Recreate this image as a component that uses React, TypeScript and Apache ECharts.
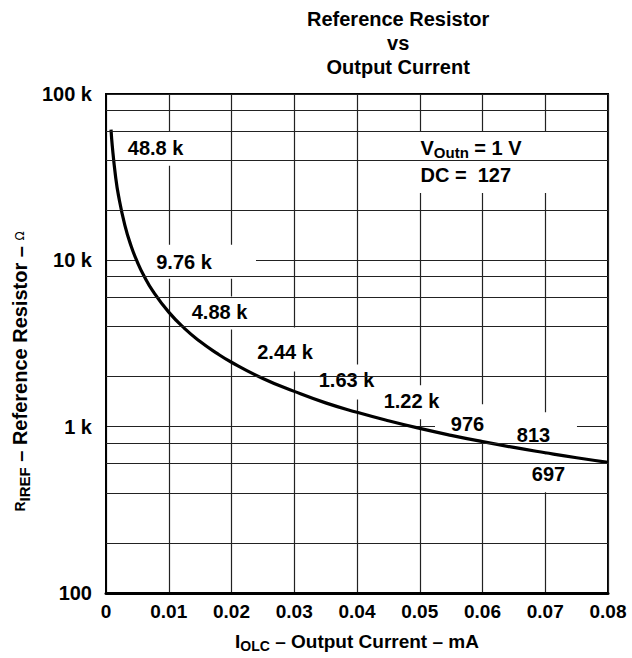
import React, { useEffect, useRef } from "react";
import * as echarts from "echarts";

// Curve: output current (mA) vs reference resistor (ohm)
const currentMA = [0.0008, 0.001, 0.0015, 0.002, 0.003, 0.004, 0.005, 0.006, 0.0075, 0.01, 0.0125, 0.015, 0.0175, 0.02, 0.025, 0.03, 0.035, 0.04, 0.045, 0.05, 0.055, 0.06, 0.065, 0.07, 0.075, 0.08];
const resistorOhm = [61000, 48800, 32500, 24400, 16300, 12200, 9760, 8130, 6500, 4880, 3900, 3250, 2790, 2440, 1950, 1630, 1390, 1220, 1085, 976, 887, 813, 750, 697, 650, 610];

// Value callouts
const calloutText = ["48.8 k", "9.76 k", "4.88 k", "2.44 k", "1.63 k", "1.22 k", "976", "813", "697"];
const calloutX = [0.0079, 0.01243, 0.01809, 0.02853, 0.03833, 0.04868, 0.0576, 0.06813, 0.07052];
const calloutY = [47400, 9820, 4920, 2830, 1897, 1419, 1033, 887, 518];

// White boxes behind callouts (centre in data coordinates)
const boxX = [0.0102, 0.01442, 0.02048, 0.02773, 0.04064, 0.04765, 0.05761, 0.06892, 0.07147, 0.05952];
const boxY = [46800, 9820, 4820, 2910, 1858, 1400, 1055, 912, 525, 38800];
const boxSize = [[116, 34], [119, 34], [115, 33], [76, 44], [116, 35], [70, 34], [65, 37], [77, 42], [75, 38], [145, 61]];

// Condition note
const noteX = [0.05004, 0.05004];
const noteY = [47400, 32700];

// Axes
const xTickValues = [0, 0.01, 0.02, 0.03, 0.04, 0.05, 0.06, 0.07, 0.08];
const xTickLabels = ["0", "0.01", "0.02", "0.03", "0.04", "0.05", "0.06", "0.07", "0.08"];
const yTickValues = [100, 1000, 10000, 100000];
const yTickLabels = ["100", "1 k", "10 k", "100 k"];
const yMinorGrid = [200, 400, 600, 800, 2000, 4000, 6000, 8000, 20000, 40000, 60000, 80000];

const FONT = "'Liberation Sans', Arial, Helvetica, sans-serif";

export default function App() {
  const ref = useRef<HTMLDivElement>(null);
  useEffect(() => {
    if (!ref.current) return;
    const chart = echarts.init(ref.current, undefined, { renderer: "svg" });
    const labelBase = { fontFamily: FONT, fontWeight: "bold" as const, color: "#000" };
    chart.setOption({
      animation: false,
      backgroundColor: "#fff",
      textStyle: { fontFamily: FONT },
      grid: {
        left: 106, right: 24, top: 94, bottom: 64,
        show: true, borderColor: "#000", borderWidth: 2, backgroundColor: "transparent",
      },
      graphic: [
        {
          type: "text", left: 307, top: 7, z: 10,
          style: {
            text: "Reference Resistor\nvs\nOutput Current",
            x: 0, y: 0, textAlign: "center",
            font: `bold 20px ${FONT}`, lineHeight: 24, fill: "#000",
          },
        },
      ],
      xAxis: {
        type: "value", min: 0, max: 0.08, interval: 0.01,
        axisLine: { show: true, onZero: false, lineStyle: { color: "#000", width: 3 } },
        axisTick: { show: false },
        splitLine: { show: true, lineStyle: { color: "#222", width: 1.2 } },
        axisLabel: {
          ...labelBase, fontSize: 19, margin: 9,
          formatter: (v: number) => {
            const i = xTickValues.findIndex((t) => Math.abs(t - v) < 1e-9);
            return i >= 0 ? xTickLabels[i] : "";
          },
        },
        name: "{i|I}{sub|OLC}{n| – Output Current – mA}",
        nameLocation: "middle", nameGap: 37, nameMoveOverlap: false,
        nameTextStyle: {
          rich: {
            i: { ...labelBase, fontSize: 19 },
            sub: { ...labelBase, fontSize: 14, padding: [9, 0, 0, 0] },
            n: { ...labelBase, fontSize: 19 },
          },
        },
      },
      yAxis: {
        type: "log", logBase: 10, min: 100, max: 100000,
        axisLine: { show: true, lineStyle: { color: "#000", width: 2 } },
        axisTick: { show: false },
        minorTick: { show: false },
        splitLine: { show: true, lineStyle: { color: "#222", width: 1.2 } },
        axisLabel: {
          ...labelBase, fontSize: 20, margin: 14,
          formatter: (v: number) => {
            const i = yTickValues.findIndex((t) => Math.abs(t - v) / t < 1e-6);
            return i >= 0 ? yTickLabels[i] : "";
          },
        },
        name: "{r|R}{sub|IREF}{n| – Reference Resistor – }{o|Ω}",
        nameLocation: "middle", nameGap: 74, nameRotate: 90, nameMoveOverlap: false,
        nameTextStyle: {
          padding: [0, 56, 0, 0],
          rich: {
            r: { ...labelBase, fontSize: 14 },
            sub: { ...labelBase, fontSize: 15, padding: [10, 0, 0, 0] },
            n: { ...labelBase, fontSize: 20 },
            o: { ...labelBase, fontFamily: "'DejaVu Sans', sans-serif", fontWeight: "normal", fontSize: 12 },
          },
        },
      },
      series: [
        {
          type: "line", z: 0, silent: true,
          data: [[0, 100]], showSymbol: false, symbol: "none",
          lineStyle: { opacity: 0 },
          markLine: {
            silent: true, symbol: ["none", "none"], label: { show: false },
            lineStyle: { color: "#222", width: 1.2, type: "solid" },
            data: yMinorGrid.map((v) => ({ yAxis: v })),
          },
        },
        {
          type: "scatter", z: 1, silent: true,
          symbol: "rect",
          symbolSize: (_v: any, p: any) => boxSize[p.dataIndex],
          itemStyle: { color: "#fff", borderWidth: 0, opacity: 1 },
          data: boxX.map((x, i) => [x, boxY[i]]),
        },
        {
          type: "scatter", z: 2, silent: true,
          symbolSize: 1, itemStyle: { color: "#fff", opacity: 1 },
          label: {
            show: true, position: "inside", ...labelBase, fontSize: 20, opacity: 1,
            formatter: (p: any) => calloutText[p.dataIndex],
          },
          data: calloutX.map((x, i) => [x, calloutY[i]]),
        },
        {
          type: "scatter", z: 2, silent: true,
          symbolSize: 1, itemStyle: { color: "#fff", opacity: 1 },
          label: {
            show: true, position: "right", distance: 0, opacity: 1,
            formatter: (p: any) => (p.dataIndex === 0 ? "{v|V}{sub|Outn}{v| = 1 V}" : "{v|DC =  127}"),
            rich: {
              v: { ...labelBase, fontSize: 20 },
              sub: { ...labelBase, fontSize: 15, padding: [10, 0, 0, 0] },
            },
          },
          data: noteX.map((x, i) => [x, noteY[i]]),
        },
        {
          type: "line", z: 3, silent: true, smooth: true,
          showSymbol: false, symbol: "none",
          lineStyle: { color: "#000", width: 3.2 },
          data: currentMA.map((x, i) => [x, resistorOhm[i]]),
        },
      ],
    });
    return () => chart.dispose();
  }, []);
  return (
    <div
      ref={ref}
      style={{ position: "fixed", left: 0, top: 0, width: 632, height: 658, background: "#fff" }}
    />
  );
}
